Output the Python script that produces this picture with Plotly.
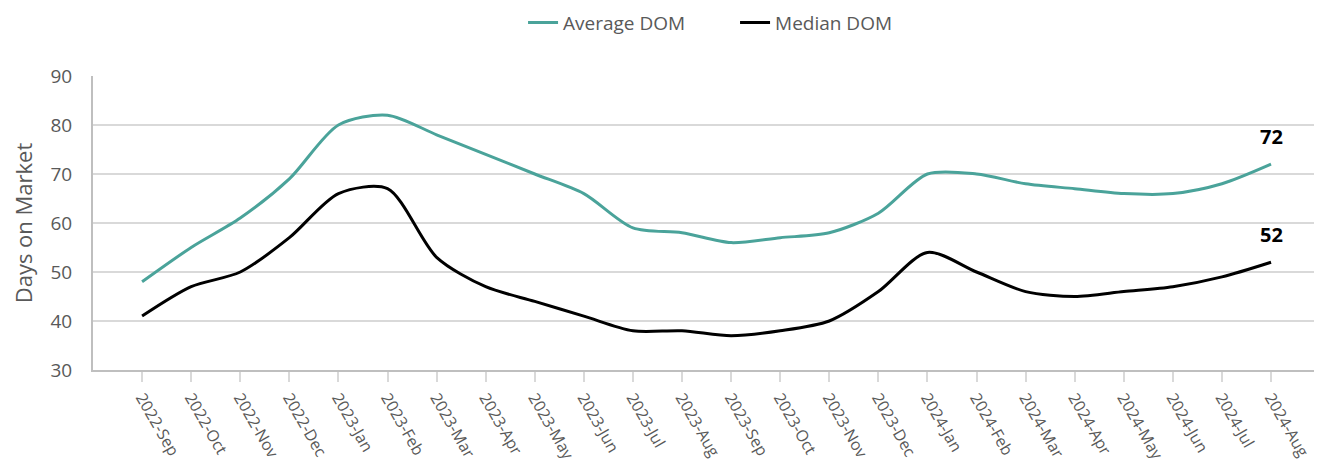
import plotly.graph_objects as go

months = ["2022-Sep", "2022-Oct", "2022-Nov", "2022-Dec", "2023-Jan", "2023-Feb",
          "2023-Mar", "2023-Apr", "2023-May", "2023-Jun", "2023-Jul", "2023-Aug",
          "2023-Sep", "2023-Oct", "2023-Nov", "2023-Dec", "2024-Jan", "2024-Feb",
          "2024-Mar", "2024-Apr", "2024-May", "2024-Jun", "2024-Jul", "2024-Aug"]
average_dom = [48, 55, 61, 69, 80, 82, 78, 74, 70, 66, 59, 58,
               56, 57, 58, 62, 70, 70, 68, 67, 66, 66, 68, 72]
median_dom = [41, 47, 50, 57, 66, 67, 53, 47, 44, 41, 38, 38,
              37, 38, 40, 46, 54, 50, 46, 45, 46, 47, 49, 52]
y_ticks = [30, 40, 50, 60, 70, 80, 90]

FONT = "Open Sans, Noto Sans, sans-serif"
GRAY = "#595959"

fig = go.Figure()
fig.add_trace(go.Scatter(x=months, y=average_dom, name="Average DOM", mode="lines",
                         line=dict(color="#4AA39A", width=3, shape="spline", smoothing=0.8)))
fig.add_trace(go.Scatter(x=months, y=median_dom, name="Median DOM", mode="lines",
                         line=dict(color="#000000", width=3, shape="spline", smoothing=0.8)))

for series in (average_dom, median_dom):
    fig.add_annotation(x=months[-1], y=series[-1], text=f"<b>{series[-1]}</b>",
                       showarrow=False, yshift=28, font=dict(family=FONT, size=20, color="#000000"))

fig.update_layout(
    width=1306, height=473,
    margin=dict(l=85, r=0, t=68, b=111, autoexpand=False),
    paper_bgcolor="white", plot_bgcolor="white",
    font=dict(family=FONT, color=GRAY),
    showlegend=True,
    legend=dict(orientation="h", x=0.5567, xanchor="center", xref="container",
                y=0.969, yref="container", yanchor="middle", entrywidth=167,
                font=dict(size=19, color=GRAY), tracegroupgap=0),
    xaxis=dict(type="category", range=[-1, 23.875], tickangle=60, automargin=False,
               tickfont=dict(size=16, color=GRAY), ticks="outside", ticklen=10,
               tickcolor="#d9d9d9", tickwidth=2, showline=True, linecolor="#bfbfbf", linewidth=2,
               showgrid=False, zeroline=False),
    yaxis=dict(range=[30, 90], tickvals=y_ticks, tickfont=dict(size=19, color=GRAY),
               automargin=False,
               title=dict(text="Days on Market", font=dict(size=22, color=GRAY), standoff=29),
               showgrid=True, gridcolor="#d9d9d9", gridwidth=2, showline=True,
               linecolor="#bfbfbf", linewidth=2, zeroline=False, ticks="", ticklabelstandoff=15),
)

fig.write_html("out.html")
